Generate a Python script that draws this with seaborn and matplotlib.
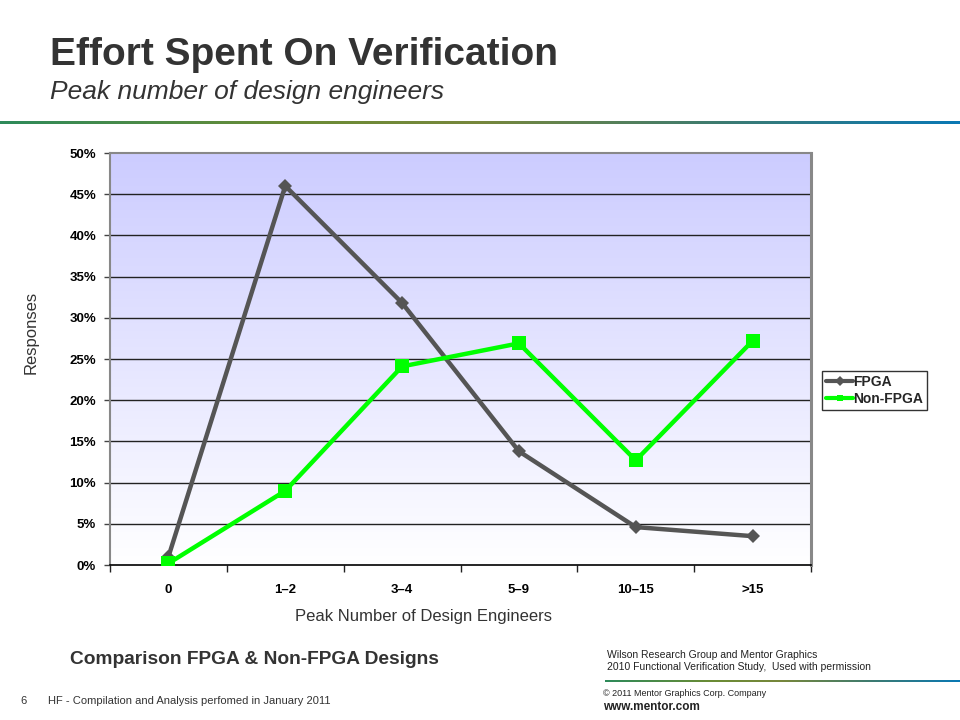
import numpy as np
import pandas as pd
import seaborn as sns
import matplotlib
matplotlib.use("Agg")
from matplotlib import pyplot as plt
from matplotlib.colors import LinearSegmentedColormap

categories = ["0", "1\u20132", "3\u20134", "5\u20139", "10\u201315", ">15"]
fpga = [1.0, 46.0, 31.8, 13.8, 4.6, 3.5]
non_fpga = [0.2, 9.0, 24.1, 26.9, 12.7, 27.2]
y_ticks = [0, 5, 10, 15, 20, 25, 30, 35, 40, 45, 50]

sns.set_theme(style="white")
plt.rcParams["font.family"] = ["Liberation Sans", "DejaVu Sans"]

df = pd.concat([
    pd.DataFrame({"cat": range(len(categories)), "value": fpga, "series": "FPGA"}),
    pd.DataFrame({"cat": range(len(categories)), "value": non_fpga, "series": "Non-FPGA"}),
])

fig = plt.figure(figsize=(9.6, 7.2), dpi=100)
ax = fig.add_axes([110 / 960, 1 - 565 / 720, 701 / 960, 412 / 720])

# gradient background of plot area
bg = LinearSegmentedColormap.from_list("bg", ["#ffffff", "#ccccff"])
ax.imshow(np.linspace(0, 1, 256).reshape(-1, 1)[::-1], cmap=bg, aspect="auto",
          extent=[-0.5, 5.5, 0, 50], zorder=0)

for y in y_ticks[1:-1]:
    ax.axhline(y, color="#222222", lw=1.0, zorder=1)

sns.lineplot(data=df, x="cat", y="value", hue="series", style="series",
             palette={"FPGA": "#555555", "Non-FPGA": "#00ff00"},
             markers={"FPGA": "D", "Non-FPGA": "s"}, dashes=False,
             linewidth=3.2, markersize=7.5, markeredgewidth=0, ax=ax, zorder=3)
for line in ax.lines:
    if line.get_marker() == "s":
        line.set_markersize(9.5)

ax.set_xlim(-0.5, 5.5)
ax.set_ylim(0, 50)
ax.set_xticks(range(len(categories)))
ax.set_xticklabels(categories, fontsize=9.5, fontweight="bold", color="black")
ax.set_xticks(np.arange(-0.5, 6, 1), minor=True)
ax.tick_params(axis="x", which="major", length=0, pad=14)
ax.tick_params(axis="x", which="minor", length=5, width=1, color="#222222", direction="out", bottom=True)
ax.set_yticks(y_ticks)
ax.set_yticklabels([f"{v}%" for v in y_ticks], fontsize=9.5, fontweight="bold", color="black")
ax.tick_params(axis="y", length=4, width=1, color="#444444", direction="out", left=True, pad=6)

for side in ["top", "right", "left"]:
    ax.spines[side].set_color("#888888")
    ax.spines[side].set_linewidth(1.5)
ax.spines["right"].set_linewidth(2.2)
ax.spines["bottom"].set_color("black")
ax.spines["bottom"].set_linewidth(1.2)

ax.set_xlabel("Peak Number of Design Engineers", fontsize=12, color="#333333")
ax.set_ylabel("Responses", fontsize=12, color="#333333")
ax.xaxis.set_label_coords(0.447, -0.108)
ax.yaxis.set_label_coords(-0.102, 0.565)

leg = ax.legend(loc="upper left", bbox_to_anchor=(1.016, 0.472), frameon=True, fancybox=False,
                edgecolor="black", prop={"weight": "bold", "size": 10}, handlelength=1.9,
                handletextpad=0.0, borderpad=0.3, labelspacing=0.25, borderaxespad=0)
leg.get_frame().set_linewidth(1.0)
for h in leg.legend_handles:
    h.set_markersize(5)
    h.set_linewidth(3)

# header
fig.text(50 / 960, 1 - 55 / 720, "Effort Spent On Verification", fontsize=28, fontweight="bold",
         color="#333333", va="center", ha="left")
fig.text(50 / 960, 1 - 92 / 720, "Peak number of design engineers", fontsize=19, style="italic",
         color="#333333", va="center", ha="left")

line_cmap = LinearSegmentedColormap.from_list("hdr", [
    (0.0, "#2e8a5a"), (0.3, "#6b8c35"), (0.5, "#77873c"), (0.75, "#3d7b70"), (1.0, "#0a78b4")])
hax = fig.add_axes([0, 1 - 124 / 720, 1, 3 / 720])
hax.imshow(np.linspace(0, 1, 256).reshape(1, -1), cmap=line_cmap, aspect="auto")
hax.axis("off")

fax = fig.add_axes([605 / 960, 1 - 682 / 720, 355 / 960, 2.5 / 720])
fax.imshow(np.linspace(0, 1, 256).reshape(1, -1), cmap=line_cmap, aspect="auto")
fax.axis("off")

# footer
fig.text(70 / 960, 1 - 660 / 720, "Comparison FPGA & Non-FPGA Designs", fontsize=13.8, fontweight="bold",
         color="#333333", va="center", ha="left")
fig.text(607 / 960, 1 - 661 / 720,
         "Wilson Research Group and Mentor Graphics\n2010 Functional Verification Study,  Used with permission",
         fontsize=7.5, color="#222222", va="center", ha="left", linespacing=1.15)
fig.text(20 / 960, 1 - 701 / 720, "6", fontsize=8, color="#333333", va="center", ha="left")
fig.text(48 / 960, 1 - 701 / 720, "HF - Compilation and Analysis perfomed in January 2011", fontsize=8,
         color="#333333", va="center", ha="left")
fig.text(603 / 960, 1 - 693 / 720, "\u00a9 2011 Mentor Graphics Corp. Company", fontsize=6.5,
         color="#222222", va="center", ha="left")
fig.text(603 / 960, 1 - 707 / 720, "www.mentor.com", fontsize=8.5, fontweight="bold",
         color="#222222", va="center", ha="left")

fig.savefig("out.png", dpi=100)
